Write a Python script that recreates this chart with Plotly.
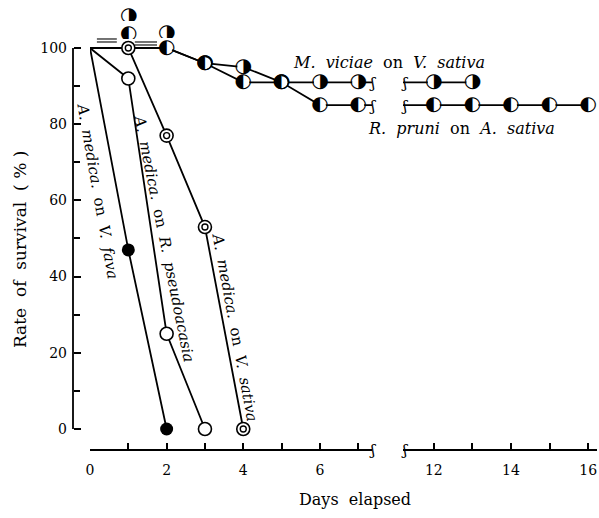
import plotly.graph_objects as go

# ---- survival data (days elapsed, % surviving) ----
fava_days = [0, 1, 2]
fava_surv = [100, 47, 0]

pseudo_days = [0, 1, 2, 3]
pseudo_surv = [100, 92, 25, 0]

sativa_days = [0, 1, 2, 3, 4]
sativa_surv = [100, 100, 77, 53, 0]

viciae_days = [0, 1, 2, 3, 4, 5, 6, 7, 12, 13]
viciae_surv = [100, 100, 100, 96, 95, 91, 91, 91, 91, 91]

pruni_days = [0, 1, 2, 3, 4, 5, 6, 7, 12, 13, 14, 15, 16]
pruni_surv = [100, 100, 100, 96, 91, 91, 85, 85, 85, 85, 85, 85, 85]

# ---- axis ticks ----
left_ticks = [0, 1, 2, 3, 4, 5, 6, 7]
left_labels = ["0", "", "2", "", "4", "", "6", ""]
right_ticks = [12, 13, 14, 15, 16]
right_labels = ["12", "", "14", "", "16"]
y_ticks = [0, 20, 40, 60, 80, 100]
y_minor = [10, 30, 50, 70, 90]

SERIF = "DejaVu Serif"
INK = "black"
LW = 1.8
LEFT_MAX, RIGHT_MIN = 7.36, 11.2
X1_RANGE = [0, LEFT_MAX]
X2_RANGE = [RIGHT_MIN, 16.23]
Y_RANGE = [-5.25, 112.07]      # room below 0 for the detached x axis, above 100 for stacked marks
SP = "\u00a0"                  # non-breaking space for wide word spacing

# page geometry (pixels)
WIDTH, HEIGHT = 599, 518
M_L, M_R, M_T, M_B = 60, 2, 2, 69
PW = WIDTH - M_L - M_R
Y_SPINE = 13 / PW              # survival scale stands a little left of day 0


def px(x):
    """paper fraction of a horizontal page position"""
    return (x - M_L) / PW


fig = go.Figure()


def line(days, surv, xaxis="x"):
    fig.add_trace(go.Scatter(x=days, y=surv, mode="lines", xaxis=xaxis, yaxis="y",
                             line=dict(color=INK, width=LW), hoverinfo="skip",
                             showlegend=False))


def dots(days, surv, xaxis="x", **marker):
    fig.add_trace(go.Scatter(x=days, y=surv, mode="markers", xaxis=xaxis, yaxis="y",
                             marker=marker, cliponaxis=False, showlegend=False))


GLYPH_FONT = dict(family="DejaVu Sans", size=20, color=INK)


def half_dots(days, surv, glyph, xaxis="x"):
    # white knock-out disc under a half-filled circle glyph
    fig.add_trace(go.Scatter(x=days, y=surv, mode="markers+text", xaxis=xaxis, yaxis="y",
                             marker=dict(size=12, color="white", line=dict(width=0)),
                             text=[glyph] * len(days), textposition="middle center",
                             textfont=GLYPH_FONT, cliponaxis=False, showlegend=False))


# survival-scale spine: a vertical stroke from the first to the last y tick, drawn
# in a narrow helper strip centred on the scale position
fig.add_trace(go.Scatter(x=[0, 0], y=[y_ticks[0], y_ticks[-1]], mode="lines",
                         xaxis="x3", yaxis="y", line=dict(color=INK, width=LW),
                         hoverinfo="skip", showlegend=False))

# lines (the two long-lived series are drawn on both halves of the broken axis;
# each half clips its own part)
for d, s in [(fava_days, fava_surv), (pseudo_days, pseudo_surv), (sativa_days, sativa_surv)]:
    line(d, s)
for d, s in [(viciae_days, viciae_surv), (pruni_days, pruni_surv)]:
    line(d, s, "x")
    line(d, s, "x2")

# the coinciding 100 % stretches are shown as parallel strokes just above the curve
for xa, xb, offsets in [(0.18, 0.70, (6, 9)), (1.17, 1.75, (3, 6))]:
    for off in offsets:
        fig.add_shape(type="line", xref="x", yref="y", ysizemode="pixel", yanchor=100,
                      x0=xa, x1=xb, y0=off, y1=off, line=dict(color=INK, width=1.1))

# A. medica markers (no marker at day 0)
dots(fava_days[1:], fava_surv[1:], size=13, color=INK, line=dict(width=0))
dots(pseudo_days[1:], pseudo_surv[1:], size=13, color="white", line=dict(color=INK, width=1.6))
dots(sativa_days[1:], sativa_surv[1:], size=13, color="white", line=dict(color=INK, width=1.6))
dots(sativa_days[1:], sativa_surv[1:], size=6, color="white", line=dict(color=INK, width=1.4))

# half-filled markers; points coinciding with another series at 100 % are
# stacked above the curve instead
VICIAE_GLYPH, PRUNI_GLYPH = "\u25d1", "\u25d0"
stacked = {("viciae", 1): 34, ("pruni", 1): 16, ("viciae", 2): 17}

for name, days, surv, glyph in [("viciae", viciae_days, viciae_surv, VICIAE_GLYPH),
                                ("pruni", pruni_days, pruni_surv, PRUNI_GLYPH)]:
    left = [(d, s) for d, s in zip(days, surv) if 0 < d <= LEFT_MAX and (name, d) not in stacked]
    right = [(d, s) for d, s in zip(days, surv) if d >= RIGHT_MIN]
    half_dots([p[0] for p in left], [p[1] for p in left], glyph, "x")
    half_dots([p[0] for p in right], [p[1] for p in right], glyph, "x2")
    for d, s in zip(days, surv):
        if (name, d) in stacked:
            fig.add_annotation(x=d, y=s, xref="x", yref="y", text=glyph, showarrow=False,
                               yshift=stacked[(name, d)], font=GLYPH_FONT,
                               borderpad=0, height=14)

# break marks on the two long curves and on the axis
BREAK_FONT = dict(family=SERIF, size=15, color=INK)
for s in [viciae_surv[-1], pruni_surv[-1], Y_RANGE[0]]:
    fig.add_annotation(x=LEFT_MAX, y=s, xref="x", yref="y", text="\u0283", showarrow=False,
                       font=BREAK_FONT, yshift=-1)
    fig.add_annotation(x=RIGHT_MIN, y=s, xref="x2", yref="y", text="\u0283", showarrow=False,
                       font=BREAK_FONT, xshift=1, yshift=-1)

# curve labels
slant_font = dict(family=SERIF, size=15, color=INK)
flat_font = dict(family=SERIF, size=16, color=INK)


def spaced(*parts):
    return (SP * 2).join(parts)


def label(x, y, text, angle=0, xref="x", font=slant_font):
    fig.add_annotation(x=x, y=y, xref=xref, yref="y", textangle=angle, showarrow=False,
                       xanchor="center", yanchor="middle", text=text, font=font)


label(0.20, 62.5, spaced("<i>A.</i>", "<i>medica.</i>", "on", "<i>V.</i>", "<i>fava</i>"), 80)
label(1.93, 50.1, spaced("<i>A.</i>", "<i>medica.</i>", "on", "<i>R.</i>",
                         "<i>pseudoacasia</i>"), 78.5)
label(3.78, 26.8, spaced("<i>A.</i>", "<i>medica.</i>", "on", "<i>V.</i>", "<i>sativa</i>"), 79.4)
label(px(389), 96.3, spaced("<i>M.</i>", "<i>viciae</i>", "on", "<i>V.</i>", "<i>sativa</i>"),
      xref="paper", font=flat_font)
label(px(461), 79.0, spaced("<i>R.</i>", "<i>pruni</i>", "on", "<i>A.</i>", "<i>sativa</i>"),
      xref="paper", font=flat_font)

# axis titles
fig.add_annotation(x=px(20), y=0.445, xref="paper", yref="paper", textangle=-90,
                   xanchor="center", yanchor="middle", showarrow=False,
                   text=spaced("Rate", "of", "survival", "(" + SP + "%" + SP + ")"),
                   font=dict(family=SERIF, size=17, color=INK))
fig.add_annotation(x=px(355), y=-0.114, xref="paper", yref="paper", showarrow=False,
                   xanchor="center", yanchor="middle",
                   text=spaced("Days", "elapsed"), font=dict(family=SERIF, size=16, color=INK))

xcommon = dict(showgrid=False, zeroline=False, showline=True, linecolor=INK, linewidth=LW,
               ticks="inside", ticklen=6, tickwidth=1.5, tickcolor=INK, anchor="y",
               ticklabelstandoff=7,
               tickfont=dict(family=SERIF, size=14, color=INK), tickmode="array")

fig.update_layout(
    width=WIDTH, height=HEIGHT,
    margin=dict(l=M_L, r=M_R, t=M_T, b=M_B),
    paper_bgcolor="white", plot_bgcolor="white",
    xaxis=dict(domain=[px(90), px(372)], range=X1_RANGE,
               tickvals=left_ticks, ticktext=left_labels, **xcommon),
    xaxis2=dict(domain=[px(403), 1], range=X2_RANGE,
                tickvals=right_ticks, ticktext=right_labels, **xcommon),
    # helper strip for the spine, centred on the scale position
    xaxis3=dict(domain=[0, 2 * Y_SPINE], range=[-1, 1], visible=False, anchor="y",
                fixedrange=True),
    yaxis=dict(range=Y_RANGE, anchor="free", position=Y_SPINE,
               showgrid=False, zeroline=False, showline=False,
               ticks="inside", ticklen=7, tickwidth=1.5, tickcolor=INK,
               tickmode="array", tickvals=y_ticks, ticklabelstandoff=6,
               tickfont=dict(family=SERIF, size=14, color=INK),
               minor=dict(tickvals=y_minor, ticks="inside", ticklen=6, tickwidth=1.5,
                          tickcolor=INK)),
)

fig.write_html("out.html")
